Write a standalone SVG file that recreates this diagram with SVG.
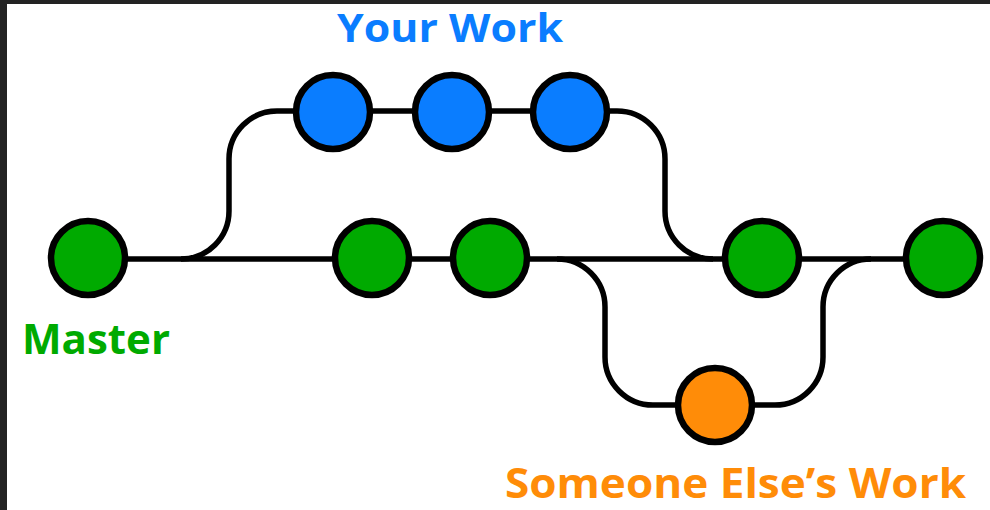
<svg xmlns="http://www.w3.org/2000/svg" width="990" height="510" viewBox="0 0 990 510">
<style>
.edge{fill:none;stroke:#000;stroke-width:5.5;stroke-linecap:butt}
.node{stroke:#000;stroke-width:6.5}
.blue{fill:#0a7dff}
.green{fill:#00aa00}
.orange{fill:#ff8c08}
.lbl{font-family:"Open Sans","Noto Sans","Liberation Sans",sans-serif;font-weight:700}
</style>
<rect x="0" y="0" width="990" height="510" fill="#ffffff"/>
<rect x="0" y="0" width="990" height="4" fill="#232323"/>
<rect x="0" y="0" width="7" height="510" fill="#232323"/>
<g id="connectors">
<line class="edge" x1="88" y1="259" x2="943" y2="259"/>
<path class="edge" d="M181,259 A48,48 0 0 0 229,211 L229,159 A48,48 0 0 1 277,111 L617,111 A48,48 0 0 1 665,159 L665,211 A48,48 0 0 0 713,259"/>
<path class="edge" d="M557,259 A48,48 0 0 1 605,307 L605,357 A48,48 0 0 0 653,405 L775,405 A48,48 0 0 0 823,357 L823,307 A48,48 0 0 1 871,259"/>
</g>
<g id="node-master1"><circle class="node green" cx="88" cy="258" r="37"/></g>
<g id="node-blue1"><circle class="node blue" cx="333" cy="112" r="37"/></g>
<g id="node-blue2"><circle class="node blue" cx="452" cy="112" r="37"/></g>
<g id="node-blue3"><circle class="node blue" cx="570" cy="112" r="37"/></g>
<g id="node-master2"><circle class="node green" cx="372" cy="258" r="37"/></g>
<g id="node-master3"><circle class="node green" cx="490" cy="258" r="37"/></g>
<g id="node-master4"><circle class="node green" cx="762" cy="258" r="37"/></g>
<g id="node-master5"><circle class="node green" cx="943" cy="258" r="37"/></g>
<g id="node-other"><circle class="node orange" cx="715" cy="405" r="37"/></g>
<g id="labels">
<text class="lbl" x="337" y="42" font-size="39" fill="#0a7dff" textLength="226" lengthAdjust="spacingAndGlyphs">Your Work</text>
<text class="lbl" x="22" y="354" font-size="41" fill="#00aa00" textLength="148" lengthAdjust="spacingAndGlyphs">Master</text>
<text class="lbl" x="505" y="498" font-size="41" fill="#ff8c08" textLength="461" lengthAdjust="spacingAndGlyphs">Someone Else’s Work</text>
</g>
</svg>
